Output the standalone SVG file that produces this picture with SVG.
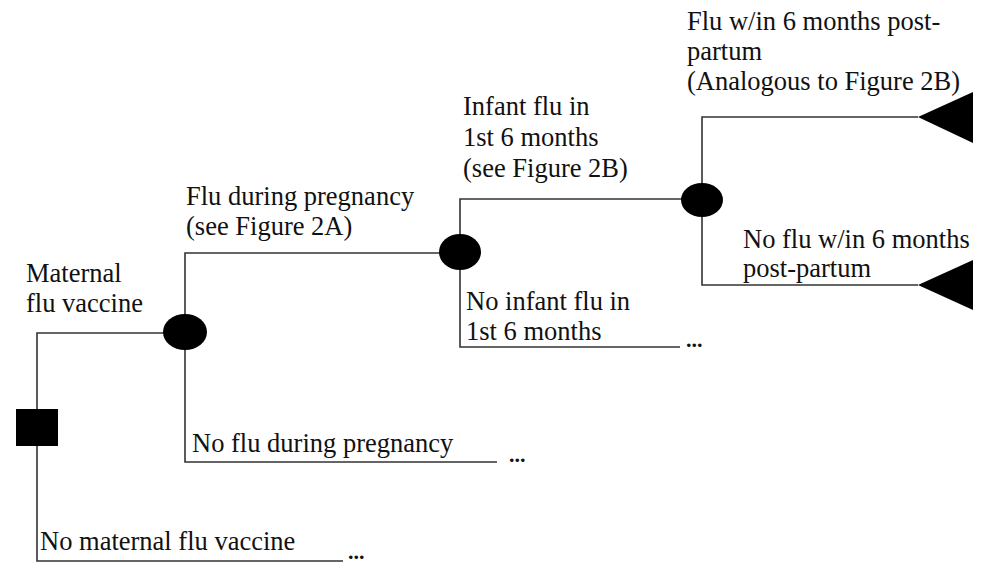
<svg xmlns="http://www.w3.org/2000/svg" width="981" height="563" viewBox="0 0 981 563">
<style>
.t{font-family:"Times New Roman","Liberation Serif",Tinos,"DejaVu Serif",serif;font-size:26.5px;fill:#111}
.d{font-family:"Times New Roman","Liberation Serif",Tinos,"DejaVu Serif",serif;font-size:22px;font-weight:bold;fill:#111}
.ln{fill:none;stroke:#333;stroke-width:1.6}
.n{fill:#000}
</style>
<rect width="981" height="563" fill="#fff"/>
<g id="connectors">
<path class="ln" d="M185,333 H37 V561 H343"/>
<path class="ln" d="M460,253 H185 V462 H497"/>
<path class="ln" d="M702,199 H460 V347 H680"/>
<path class="ln" d="M918,117 H702 V285 H918"/>
</g>
<g id="decision"><rect class="n" x="16" y="409" width="42" height="37"/></g>
<g id="chance1"><ellipse class="n" cx="185" cy="332" rx="22" ry="18"/></g>
<g id="chance2"><ellipse class="n" cx="460" cy="252" rx="21" ry="18"/></g>
<g id="chance3"><ellipse class="n" cx="702" cy="200" rx="21" ry="17"/></g>
<g id="terminal1"><polygon class="n" points="918,117 973,92 973,143"/></g>
<g id="terminal2"><polygon class="n" points="918,285 973,260 973,310"/></g>
<g id="labels">
<text class="t" x="26" y="282">Maternal</text>
<text class="t" x="26" y="312">flu vaccine</text>
<text class="t" x="40" y="550">No maternal flu vaccine</text>
<text class="d" x="348" y="559">...</text>
<text class="t" x="186" y="205">Flu during pregnancy</text>
<text class="t" x="186" y="235">(see Figure 2A)</text>
<text class="t" x="192" y="452">No flu during pregnancy</text>
<text class="d" x="509" y="462">...</text>
<text class="t" x="463" y="115">Infant flu in</text>
<text class="t" x="463" y="146">1st 6 months</text>
<text class="t" x="463" y="177">(see Figure 2B)</text>
<text class="t" x="466" y="310">No infant flu in</text>
<text class="t" x="466" y="340">1st 6 months</text>
<text class="d" x="686" y="347">...</text>
<text class="t" x="687" y="30">Flu w/in 6 months post-</text>
<text class="t" x="687" y="60">partum</text>
<text class="t" x="687" y="90">(Analogous to Figure 2B)</text>
<text class="t" x="743" y="248">No flu w/in 6 months</text>
<text class="t" x="743" y="277">post-partum</text>
</g>
</svg>
